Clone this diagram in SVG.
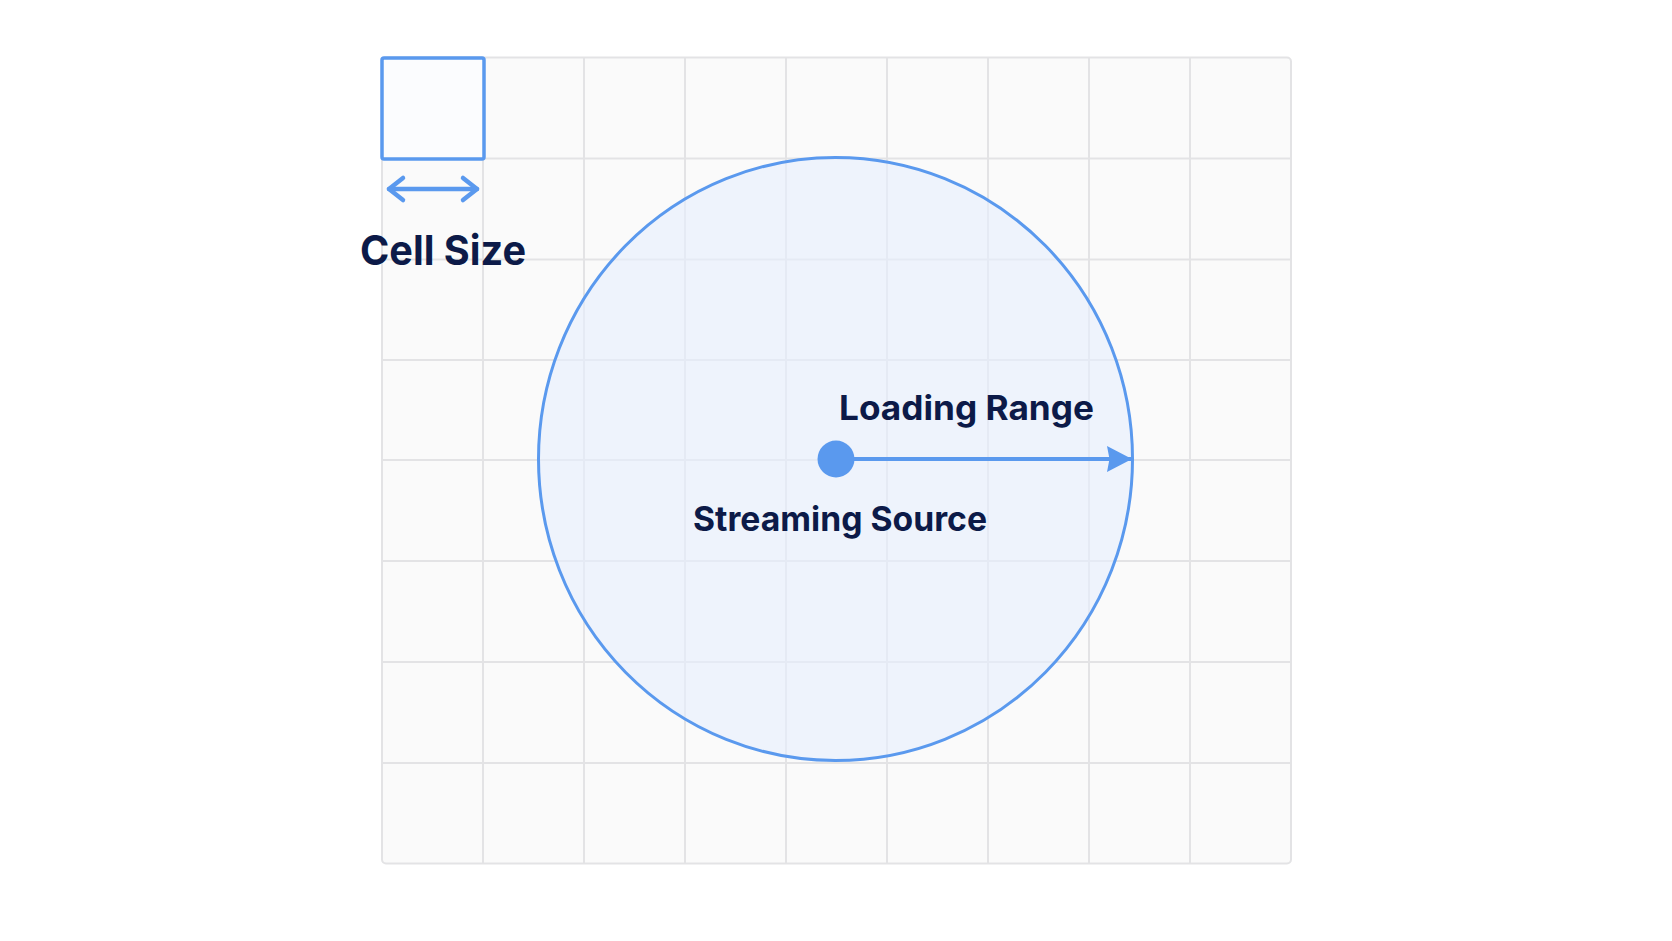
<svg xmlns="http://www.w3.org/2000/svg" width="1672" height="941" viewBox="0 0 1672 941">
<style>
.grid line{stroke:#e3e3e5;stroke-width:2}
.lbl{font-family:Inter,"Noto Sans","Liberation Sans",sans-serif;font-weight:700;fill:#0c1a48}
.blue{stroke:#5a99ee;fill:none}
</style>
<defs>
<marker id="tri" viewBox="0 0 25 26" refX="25" refY="13" markerWidth="25" markerHeight="26" markerUnits="userSpaceOnUse" orient="auto">
<path d="M0,0 L25,13 L0,26 L2.5,13 Z" fill="#5a99ee"/>
</marker>
</defs>
<rect width="1672" height="941" fill="#ffffff"/>
<g id="grid" class="grid">
<rect x="382" y="57.5" width="909" height="806" rx="4" fill="#fafafa" stroke="#e3e3e5" stroke-width="2"/>
<line x1="483" y1="57.5" x2="483" y2="863.5"/>
<line x1="584" y1="57.5" x2="584" y2="863.5"/>
<line x1="685" y1="57.5" x2="685" y2="863.5"/>
<line x1="786" y1="57.5" x2="786" y2="863.5"/>
<line x1="887" y1="57.5" x2="887" y2="863.5"/>
<line x1="988" y1="57.5" x2="988" y2="863.5"/>
<line x1="1089" y1="57.5" x2="1089" y2="863.5"/>
<line x1="1190" y1="57.5" x2="1190" y2="863.5"/>
<line x1="382" y1="158.5" x2="1291" y2="158.5"/>
<line x1="382" y1="259.5" x2="1291" y2="259.5"/>
<line x1="382" y1="360" x2="1291" y2="360"/>
<line x1="382" y1="460" x2="1291" y2="460"/>
<line x1="382" y1="561" x2="1291" y2="561"/>
<line x1="382" y1="662" x2="1291" y2="662"/>
<line x1="382" y1="763" x2="1291" y2="763"/>
</g>
<g id="loading-range-circle">
<ellipse cx="835.5" cy="459" rx="297" ry="301.5" fill="#e6effd" fill-opacity="0.6"/>
<ellipse class="blue" cx="835.5" cy="459" rx="297" ry="301.5" stroke-width="3"/>
</g>
<g id="cell-size">
<rect x="382" y="58" width="102" height="101" rx="2" class="blue" style="fill:#fbfcfe" stroke-width="3.5"/>
<text class="lbl" x="360" y="265" font-size="41" textLength="166" lengthAdjust="spacingAndGlyphs">Cell Size</text>
</g>
<g id="streaming-source">
<circle cx="836" cy="459" r="18.5" fill="#5a99ee"/>
<text class="lbl" x="693" y="531" font-size="34" textLength="294" lengthAdjust="spacingAndGlyphs">Streaming Source</text>
</g>
<g id="loading-label">
<text class="lbl" x="839" y="420" font-size="34" textLength="255" lengthAdjust="spacingAndGlyphs">Loading Range</text>
</g>
<g id="connectors">
<line class="blue" x1="850" y1="459" x2="1132" y2="459" stroke-width="4" marker-end="url(#tri)"/>
<line class="blue" x1="389" y1="189" x2="477" y2="189" stroke-width="4.5" stroke-linecap="round"/>
<polyline class="blue" points="403,178 389,189 403,200" stroke-width="4.5" stroke-linecap="round" stroke-linejoin="round"/>
<polyline class="blue" points="463,178 477,189 463,200" stroke-width="4.5" stroke-linecap="round" stroke-linejoin="round"/>
</g>
</svg>
